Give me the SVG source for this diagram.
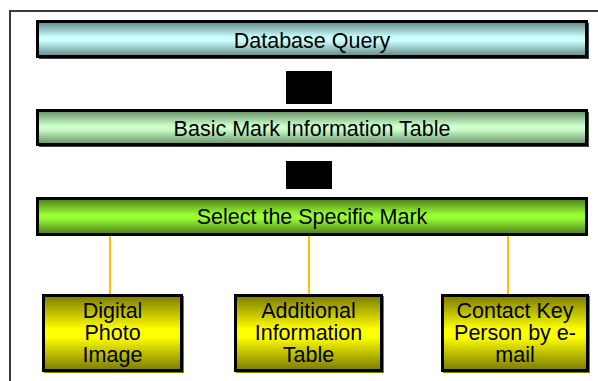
<svg xmlns="http://www.w3.org/2000/svg" width="598" height="381" viewBox="0 0 598 381">
  <defs>
    <linearGradient id="gQuery" x1="0" y1="0" x2="0" y2="1">
      <stop offset="0" stop-color="#5e8584"/>
      <stop offset="0.45" stop-color="#ccffff"/>
      <stop offset="0.55" stop-color="#ccffff"/>
      <stop offset="1" stop-color="#5e8584"/>
    </linearGradient>
    <linearGradient id="gTable" x1="0" y1="0" x2="0" y2="1">
      <stop offset="0" stop-color="#668f66"/>
      <stop offset="0.45" stop-color="#ccffcc"/>
      <stop offset="0.55" stop-color="#ccffcc"/>
      <stop offset="1" stop-color="#668f66"/>
    </linearGradient>
    <linearGradient id="gSelect" x1="0" y1="0" x2="0" y2="1">
      <stop offset="0" stop-color="#4d7a1f"/>
      <stop offset="0.45" stop-color="#99ff33"/>
      <stop offset="0.55" stop-color="#99ff33"/>
      <stop offset="1" stop-color="#4d7a1f"/>
    </linearGradient>
    <linearGradient id="gLeaf" x1="0" y1="0" x2="0" y2="1">
      <stop offset="0" stop-color="#7a7a00"/>
      <stop offset="0.45" stop-color="#ffff00"/>
      <stop offset="0.55" stop-color="#ffff00"/>
      <stop offset="1" stop-color="#7a7a00"/>
    </linearGradient>
  </defs>
  <style>
    .box { stroke: #000; stroke-width: 3; }
    .label { font-family: "Liberation Sans", Arial, sans-serif; font-size: 21.5px; fill: #000; text-anchor: middle; }
    .link { stroke: #ffc000; stroke-width: 2; fill: none; }
    .step { fill: #000; }
  </style>

  <rect width="598" height="381" fill="#fff"/>
  <!-- outer frame, open to the right and bottom -->
  <path d="M10 381 V11 H598" fill="none" stroke="#3a3a3a" stroke-width="2"/>

  <!-- connectors -->
  <g id="connectors">
    <rect class="step" x="286" y="71" width="46" height="33"/>
    <rect class="step" x="286" y="161" width="46" height="28"/>
    <line class="link" x1="110" y1="236" x2="110" y2="294"/>
    <line class="link" x1="309" y1="236" x2="309" y2="294"/>
    <line class="link" x1="508" y1="236" x2="508" y2="294"/>
  </g>

  <g id="database-query">
    <rect x="39" y="23" width="550" height="36" fill="#2f4a48"/>
    <rect class="box" x="37.5" y="21.5" width="549" height="35" fill="url(#gQuery)"/>
    <text class="label" x="312" y="48">Database Query</text>
  </g>

  <g id="basic-mark-table">
    <rect x="39" y="112" width="550" height="35" fill="#3a553a"/>
    <rect class="box" x="37.5" y="110.5" width="549" height="34" fill="url(#gTable)"/>
    <text class="label" x="312" y="136">Basic Mark Information Table</text>
  </g>

  <g id="select-mark">
    <rect class="box" x="37.5" y="198.5" width="549" height="36" fill="url(#gSelect)"/>
    <text class="label" x="312" y="224">Select the Specific Mark</text>
  </g>

  <g id="digital-photo">
    <rect x="44" y="296" width="140" height="77" fill="#808000"/>
    <rect class="box" x="43.5" y="295.5" width="138" height="75" fill="url(#gLeaf)"/>
    <text class="label" x="112.5" y="318">Digital</text>
    <text class="label" x="112.5" y="340">Photo</text>
    <text class="label" x="112.5" y="362">Image</text>
  </g>

  <g id="additional-info">
    <rect x="236" y="296" width="148" height="77" fill="#808000"/>
    <rect class="box" x="235.5" y="295.5" width="146" height="75" fill="url(#gLeaf)"/>
    <text class="label" x="308.5" y="318">Additional</text>
    <text class="label" x="308.5" y="340">Information</text>
    <text class="label" x="308.5" y="362">Table</text>
  </g>

  <g id="contact-person">
    <rect x="443" y="296" width="147" height="77" fill="#808000"/>
    <rect class="box" x="442.5" y="295.5" width="145" height="75" fill="url(#gLeaf)"/>
    <text class="label" x="515" y="318">Contact Key</text>
    <text class="label" x="515" y="340">Person by e-</text>
    <text class="label" x="515" y="362">mail</text>
  </g>
</svg>
